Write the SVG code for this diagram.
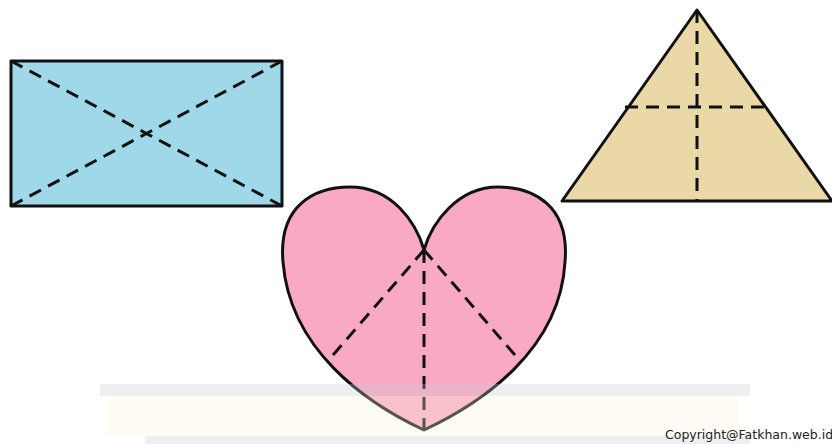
<svg xmlns="http://www.w3.org/2000/svg" width="832" height="444" viewBox="0 0 832 444">
<style>
.outline{stroke:#111;stroke-width:3;stroke-linejoin:round}
.dash{stroke:#111;stroke-width:3;stroke-dasharray:13 8;fill:none}
</style>
<rect width="832" height="444" fill="#ffffff"/>
<g id="rectangle">
<rect x="11" y="61" width="271" height="145" fill="#9ed8e9" class="outline"/>
<line x1="11" y1="61" x2="282" y2="206" class="dash"/>
<line x1="11" y1="206" x2="282" y2="61" class="dash"/>
</g>
<g id="triangle">
<polygon points="697,10 562,201 832,201" fill="#ead9a6" class="outline"/>
<line x1="697" y1="10" x2="697" y2="201" class="dash"/>
<line x1="625" y1="107" x2="769" y2="107" class="dash"/>
</g>
<g id="heart">
<path d="M424,430 C366,403 290,350 283,262 C278,205 315,187 350,187 C392,187 416,222 424,250 C432,222 458,187 498,187 C533,187 570,205 565,262 C560,350 482,403 424,430 Z" fill="#f9a9c4" class="outline"/>
<line x1="424" y1="250" x2="327" y2="362" class="dash"/>
<line x1="424" y1="250" x2="521" y2="362" class="dash"/>
<line x1="424" y1="250" x2="424" y2="430" class="dash"/>
</g>
<g id="watermark">
<rect x="100" y="384" width="650" height="12" fill="#c8cbd4" opacity="0.3"/>
<rect x="106" y="396" width="632" height="40" fill="#fbf6dc" opacity="0.3"/>
<rect x="145" y="436" width="605" height="8" fill="#c8cbd4" opacity="0.3"/>
</g>
<text x="665" y="439" font-family="'Comic Sans MS','DejaVu Sans',sans-serif" font-size="12.5" fill="#222">Copyright@Fatkhan.web.id</text>
</svg>
